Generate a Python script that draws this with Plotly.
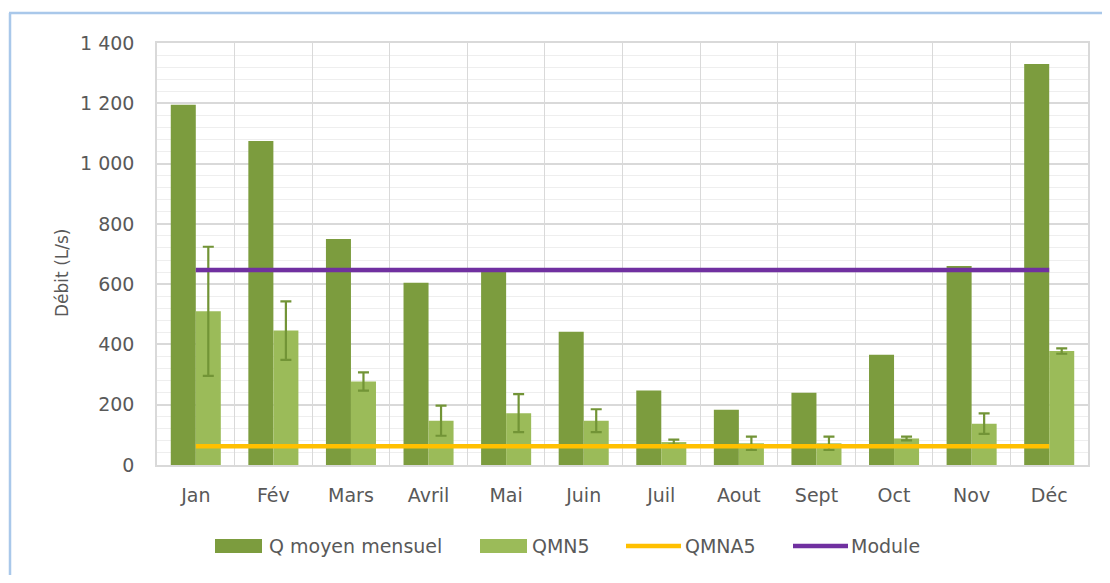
import plotly.graph_objects as go

months = ["Jan", "Fév", "Mars", "Avril", "Mai", "Juin", "Juil", "Aout", "Sept", "Oct", "Nov", "Déc"]
q_moyen = [1195, 1075, 750, 605, 640, 442, 247, 183, 240, 366, 660, 1330]
qmn5 = [510, 446, 277, 147, 172, 147, 76, 72, 72, 88, 137, 378]
qmn5_err = [214, 97, 30, 50, 63, 38, 8, 22, 22, 6, 34, 9]
qmna5 = [62] * 12
module = [647] * 12
y_ticks = [0, 200, 400, 600, 800, 1000, 1200, 1400]
y_ticktext = ["0", "200", "400", "600", "800", "1 000", "1 200", "1 400"]

dark = "#7c9c3e"
light = "#9bbb59"
err_col = "#729436"
yellow = "#ffc000"
purple = "#7030a0"
txt = "#595959"
frame_col = "#a9c8ea"
font_family = "DejaVu Sans, Open Sans, sans-serif"

# figure geometry (page is offset by the 8px body margin)
W, H = 1102, 567
L, R, T, B = 149, 22, 35, 110
PW, PH = W - L - R, H - T - B


def px(page_x):
    return (page_x - 8 - L) / PW


def py(page_y):
    return (H - B + 8 - page_y) / PH


fig = go.Figure()
fig.add_trace(go.Bar(x=months, y=q_moyen, name="Q moyen mensuel", marker_color=dark,
                     marker_line_width=0, showlegend=False))
fig.add_trace(go.Bar(x=months, y=qmn5, name="QMN5", marker_color=light, marker_line_width=0,
                     showlegend=False,
                     error_y=dict(type="data", array=qmn5_err, visible=True,
                                  color=err_col, thickness=2.2, width=5.5)))
fig.add_trace(go.Scatter(x=months, y=qmna5, name="QMNA5", mode="lines", showlegend=False,
                         line=dict(color=yellow, width=4.5)))
fig.add_trace(go.Scatter(x=months, y=module, name="Module", mode="lines", showlegend=False,
                         line=dict(color=purple, width=4.5)))

# custom legend (wide swatches as in the reference)
legend_items = [
    ("Q moyen mensuel", "bar", dark, 215, 262, 267),
    ("QMN5", "bar", light, 480, 527, 530),
    ("QMNA5", "line", yellow, 626, 681, 683),
    ("Module", "line", purple, 793, 848, 849),
]
shapes = [
    # outer chart frame: top and left edges visible, faint bottom edge
    dict(type="line", xref="paper", yref="paper", x0=px(9), x1=px(1125), y0=py(13), y1=py(13),
         line=dict(color=frame_col, width=2.5), layer="below"),
    dict(type="line", xref="paper", yref="paper", x0=px(10), x1=px(10), y0=py(13), y1=py(590),
         line=dict(color=frame_col, width=2.5), layer="below"),
    dict(type="line", xref="paper", yref="paper", x0=px(10), x1=px(1125), y0=py(582), y1=py(582),
         line=dict(color="#eeeeee", width=1.5), layer="below"),
]
annotations = [
    dict(text="Débit (L/s)", textangle=-90, xref="paper", yref="paper", x=px(62), y=py(273),
         xanchor="center", yanchor="middle", showarrow=False,
         font=dict(size=17, color=txt, family=font_family)),
]
ly = 546
for name, kind, col, x0, x1, tx in legend_items:
    if kind == "bar":
        shapes.append(dict(type="rect", xref="paper", yref="paper", x0=px(x0), x1=px(x1),
                           y0=py(ly + 7), y1=py(ly - 7), fillcolor=col, line=dict(width=0)))
    else:
        shapes.append(dict(type="line", xref="paper", yref="paper", x0=px(x0), x1=px(x1),
                           y0=py(ly), y1=py(ly), line=dict(color=col, width=4.5)))
    annotations.append(dict(text=name, xref="paper", yref="paper", x=px(tx), y=py(ly),
                            xanchor="left", yanchor="middle", showarrow=False,
                            font=dict(size=19, color=txt, family=font_family)))

fig.update_layout(
    width=W, height=H,
    margin=dict(l=L, r=R, t=T, b=B),
    paper_bgcolor="white", plot_bgcolor="white",
    barmode="group", bargap=0.355, bargroupgap=0,
    font=dict(family=font_family, color=txt, size=19),
    showlegend=False,
    shapes=shapes,
    annotations=annotations,
)
fig.update_xaxes(type="category", tickson="boundaries", showgrid=True, gridcolor="#d9d9d9",
                 gridwidth=1, showline=True, linecolor="#d9d9d9", linewidth=1.5, mirror=True,
                 ticks="", tickfont=dict(size=19, color=txt), ticklabelstandoff=12)
fig.update_yaxes(range=[0, 1400], tickvals=y_ticks, ticktext=y_ticktext,
                 showgrid=True, gridcolor="#d9d9d9", gridwidth=1.5,
                 minor=dict(dtick=40, showgrid=True, gridcolor="#eeeeee", gridwidth=1),
                 showline=True, linecolor="#d9d9d9", linewidth=1.5, mirror=True, zeroline=False,
                 ticks="", tickfont=dict(size=19, color=txt), ticklabelstandoff=17)

fig.write_html("out.html")
